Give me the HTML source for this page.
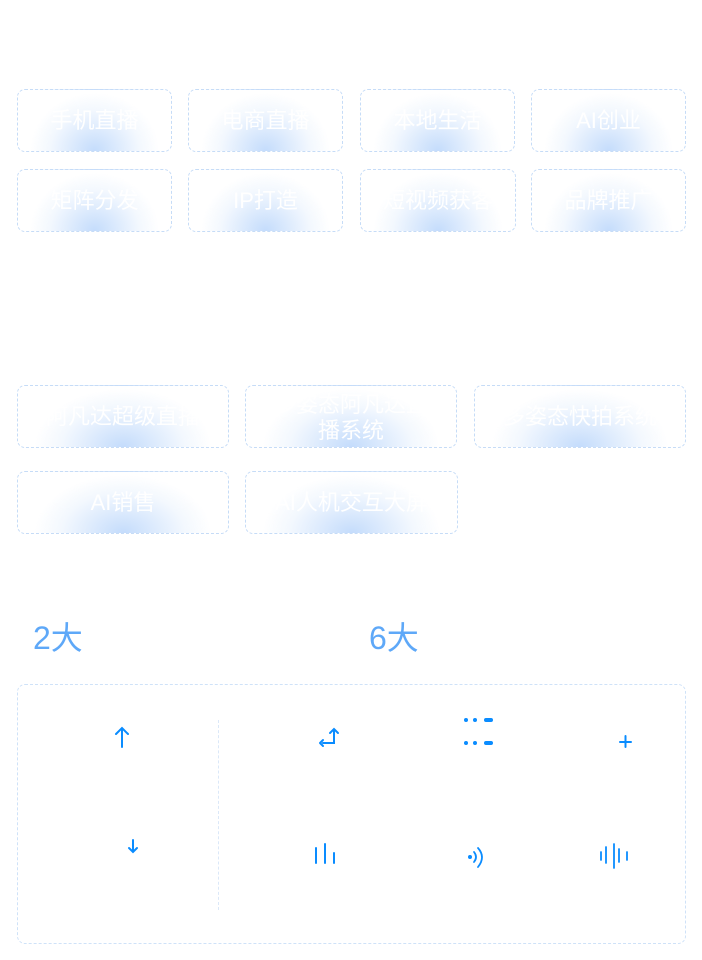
<!DOCTYPE html>
<html><head><meta charset="utf-8"><style>
html,body{margin:0;padding:0;background:#fff;width:702px;height:960px;overflow:hidden;position:relative;font-family:"Liberation Sans","Noto Sans CJK SC",sans-serif}
.b{position:absolute;box-sizing:border-box;border:1px dashed #c6dcf7;border-radius:8px;overflow:hidden;
background:radial-gradient(ellipse 42% 95% at 50% 100%,#c4dcfc 0%,#dfecfd 40%,#f3f8fe 70%,rgba(255,255,255,0) 100%) #fff;
color:#fff;font-size:22px;display:flex;align-items:center;justify-content:center;text-align:center;white-space:nowrap;line-height:28px}
.t{position:absolute;color:#5ea8f8;font-size:32px;top:618px;line-height:40px}
svg{position:absolute;left:0;top:0}
</style></head><body>
<div class="b" style="left:17px;top:89px;width:155px;height:63px">手机直播</div>
<div class="b" style="left:188px;top:89px;width:155px;height:63px">电商直播</div>
<div class="b" style="left:360px;top:89px;width:155px;height:63px">本地生活</div>
<div class="b" style="left:531px;top:89px;width:155px;height:63px">AI创业</div>
<div class="b" style="left:17px;top:169px;width:155px;height:63px">矩阵分发</div>
<div class="b" style="left:188px;top:169px;width:155px;height:63px">IP打造</div>
<div class="b" style="left:360px;top:169px;width:156px;height:63px">短视频获客</div>
<div class="b" style="left:531px;top:169px;width:155px;height:63px">品牌推广</div>

<div class="b" style="left:17px;top:385px;width:212px;height:63px">阿凡达超级直播</div>
<div class="b" style="left:245px;top:385px;width:212px;height:63px;white-space:normal;line-height:26px"><span style="display:block;width:212px;padding-top:2px">多姿态阿凡达直<br>播系统</span></div>
<div class="b" style="left:474px;top:385px;width:212px;height:63px">多姿态快拍系统</div>
<div class="b" style="left:17px;top:471px;width:212px;height:63px">AI销售</div>
<div class="b" style="left:245px;top:471px;width:213px;height:63px">AI人机交互大屏</div>

<div class="t" style="left:33px">2大</div>
<div class="t" style="left:369px">6大</div>

<div style="position:absolute;left:17px;top:684px;width:669px;height:260px;box-sizing:border-box;border:1px dashed #cfe2f8;border-radius:8px"></div>
<div style="position:absolute;left:218px;top:720px;height:190px;border-left:1px dashed #dbe8f8"></div>

<svg width="702" height="960" fill="none" stroke="#0a8cff" stroke-width="2" stroke-linecap="round">
<path d="M122 728V747M116 734L122 728L128 734"/>
<path d="M133 840V852M129 848L133 852L137 848"/>
<path d="M334 730V743H323M320 743l3-3M320 743l3 3M330 733l4-4l4 4"/>
<g fill="#0a8cff" stroke="none">
<circle cx="466" cy="720" r="2"/><circle cx="475" cy="720" r="2"/><rect x="484" y="718" width="9" height="4" rx="2"/>
<circle cx="466" cy="743" r="2"/><circle cx="475" cy="743" r="2"/><rect x="484" y="741" width="9" height="4" rx="2"/>
<circle cx="470" cy="857" r="2"/>
</g>
<path d="M620 742H631M625.5 736V747"/>
<path d="M316 848V863M325 844V863M334 853V863"/>
<path d="M478 848Q486 857 478 867M474 852Q478 857 474 862" stroke-width="1.8"/>
<path d="M601 852V860M606 847V863M614 844V868M619 849V862M627 852V860" stroke-width="1.8"/>
</svg>
</body></html>
